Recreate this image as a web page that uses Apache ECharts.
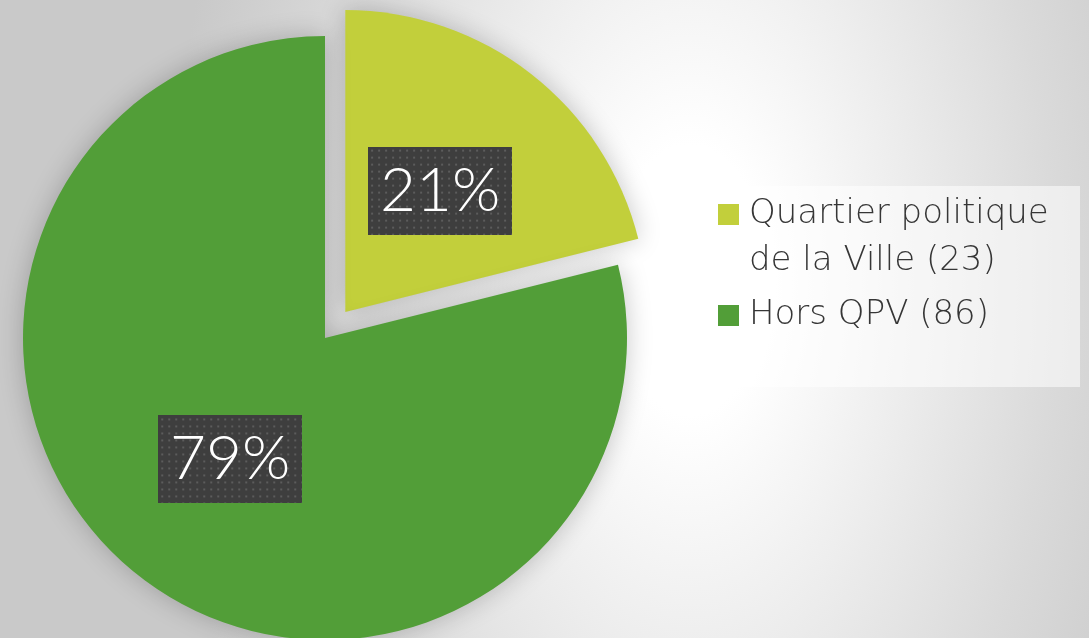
<!DOCTYPE html>
<html>
<head>
<meta charset="utf-8">
<script src="https://cdn.jsdelivr.net/npm/echarts@6/dist/echarts.min.js"></script>
<style>
  html, body { margin: 0; padding: 0; }
  #chart {
    width: 1089px;
    height: 638px;
    background: radial-gradient(ellipse 520px 900px at 690px 280px, #ffffff 0%, #ffffff 15%, #dadada 70%, #c9c9c9 100%);
  }
</style>
</head>
<body>
<div id="chart"></div>
<script>
// data
const categories = ["Quartier politique de la Ville", "Hors QPV"];
// leading empty line keeps the legend square level with the first text line
const legendNames = ["\nQuartier politique\nde la Ville", "Hors QPV"];
const values = [23, 86];
const colors = ["#c2cf3b", "#529e38"];

// dotted dark background for the percent boxes
function dotBox(w, h) {
  const c = document.createElement("canvas");
  c.width = w;
  c.height = h;
  const ctx = c.getContext("2d");
  ctx.fillStyle = "#3e3e3e";
  ctx.fillRect(0, 0, w, h);
  ctx.fillStyle = "#5c5c5c";
  for (let y = 3; y < h; y += 7) {
    for (let x = 3; x < w; x += 7) {
      ctx.fillRect(x, y, 2, 2);
    }
  }
  return c;
}
const boxBg = dotBox(144, 88);

const chart = echarts.init(document.getElementById("chart"));

chart.setOption({
  animation: false,
  backgroundColor: "transparent",
  graphic: [
    {
      type: "rect",
      left: 695,
      top: 186,
      z: -1,
      shape: { width: 385, height: 201 },
      style: { fill: "rgba(255,255,255,0.55)" },
    },
  ],
  legend: {
    orient: "vertical",
    left: 718,
    top: 144,
    padding: 0,
    itemGap: 7,
    itemWidth: 21,
    itemHeight: 21,
    icon: "rect",
    selectedMode: false,
    formatter: function (name) {
      const i = categories.indexOf(name);
      return legendNames[i] + " (" + values[i] + ")";
    },
    textStyle: {
      fontFamily: "DejaVu Sans",
      fontWeight: 200,
      fontSize: 34,
      lineHeight: 47,
      color: "#363636",
      padding: [0, 0, 0, 5],
    },
    data: categories,
  },
  series: [
    {
      type: "pie",
      center: [325, 338],
      radius: 302,
      startAngle: 90,
      percentPrecision: 0,
      selectedMode: "single",
      selectedOffset: 33,
      silent: true,
      itemStyle: {
        shadowBlur: 26,
        shadowColor: "rgba(0,0,0,0.22)",
      },
      label: {
        show: true,
        position: "inside",
        formatter: "{d}%",
        fontFamily: "Lato",
        fontWeight: 300,
        fontSize: 62,
        lineHeight: 62,
        color: "#ffffff",
        width: 122,
        align: "center",
        padding: [19, 11, 7, 11],
        backgroundColor: { image: boxBg },
        shadowColor: "rgba(0,0,0,0.5)",
        shadowBlur: 6,
        shadowOffsetX: 4,
        shadowOffsetY: 5,
      },
      labelLine: { show: false },
      emphasis: { disabled: true },
      data: categories.map(function (c, i) {
        return {
          name: c,
          value: values[i],
          selected: i === 0,
          itemStyle: { color: colors[i] },
        };
      }),
    },
  ],
});
</script>
</body>
</html>
